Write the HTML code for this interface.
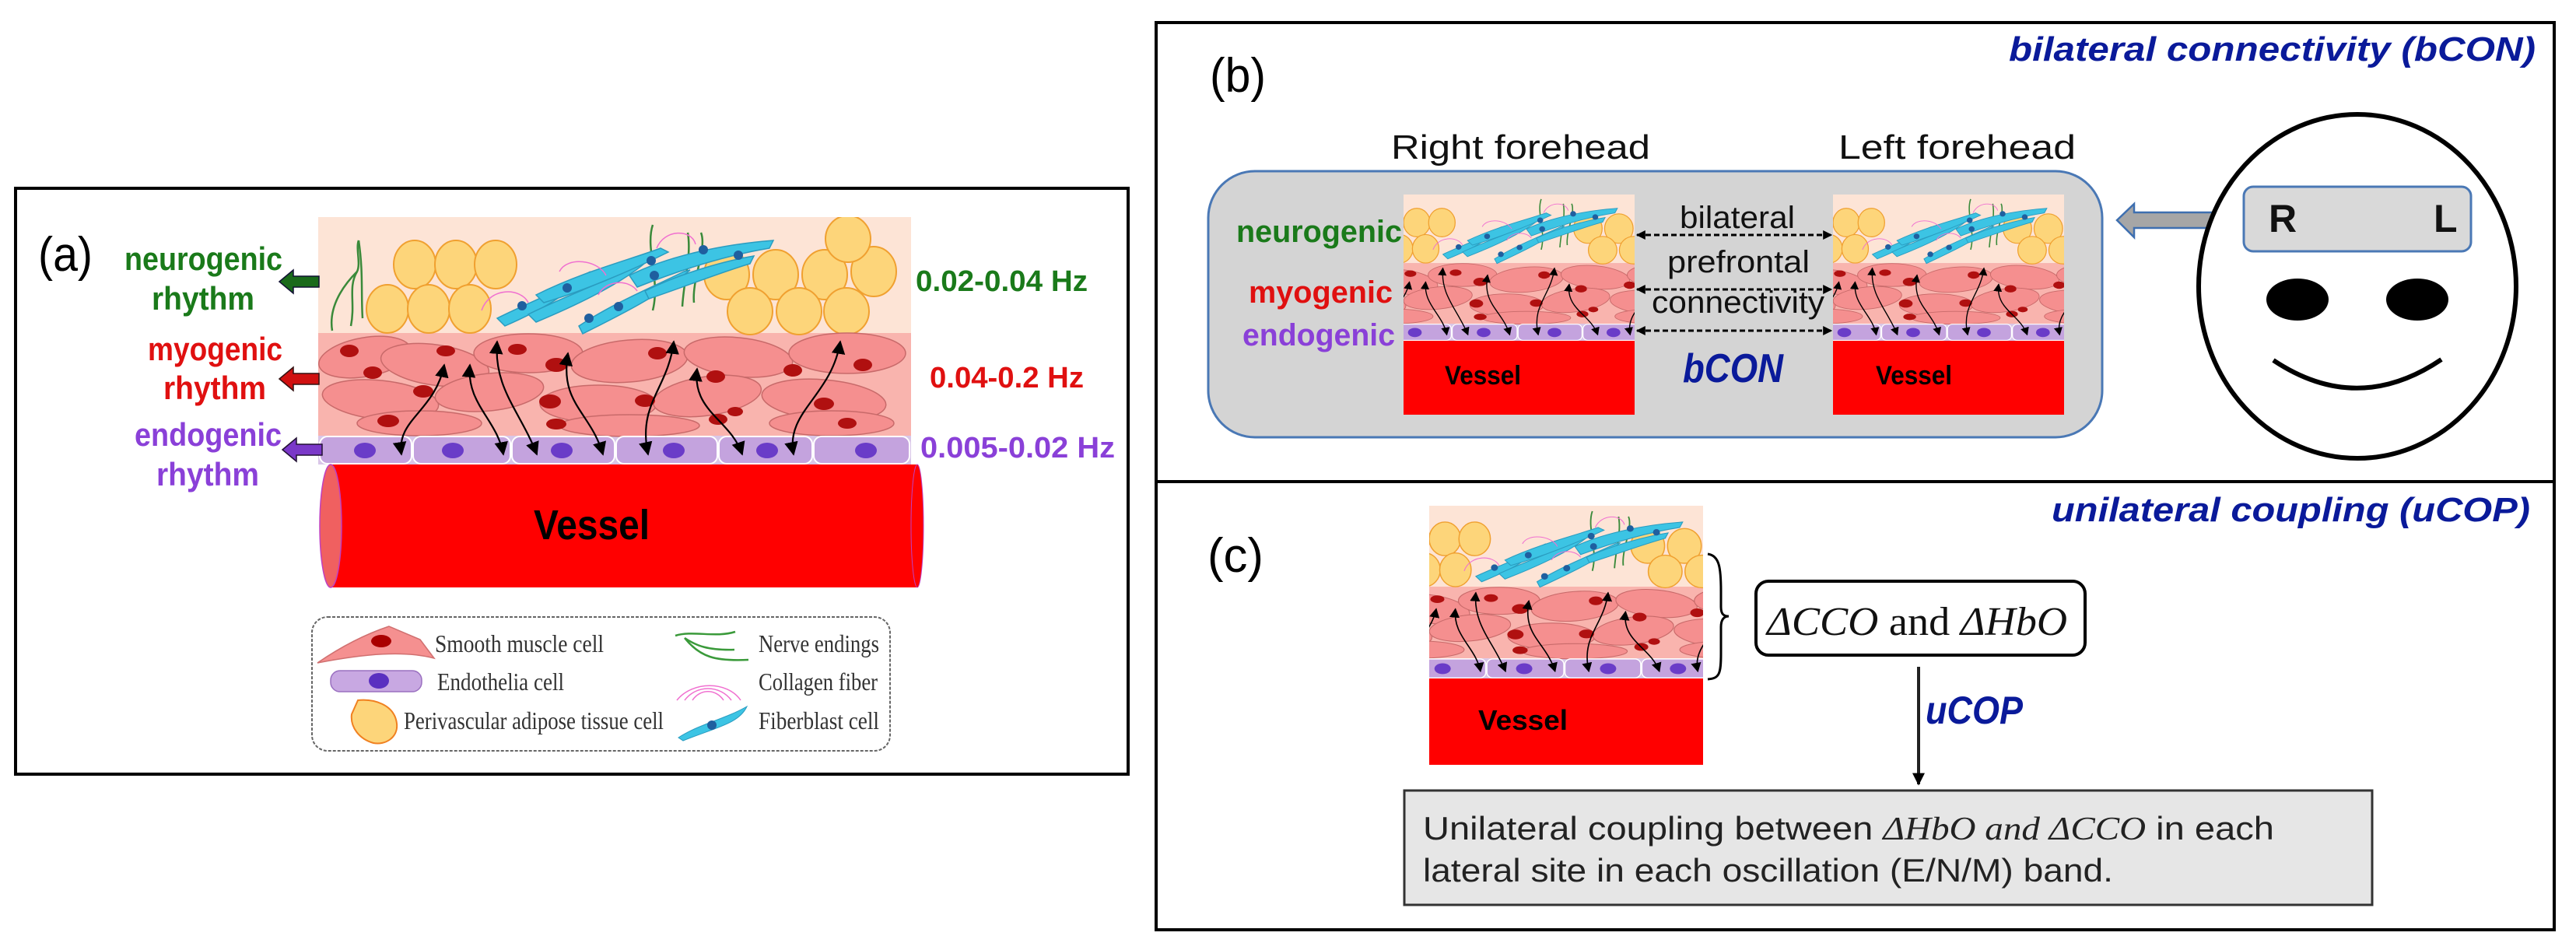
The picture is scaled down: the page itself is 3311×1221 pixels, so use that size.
<!DOCTYPE html>
<html><head><meta charset="utf-8"><style>
html,body{margin:0;padding:0;background:#fff;}
svg{display:block;}
</style></head><body>
<svg width="3311" height="1221" viewBox="0 0 3311 1221" xmlns="http://www.w3.org/2000/svg">
<defs>
<marker id="ah" viewBox="0 0 10 10" refX="9" refY="5" markerWidth="8" markerHeight="8" orient="auto-start-reverse"><path d="M0,0 L10,5 L0,10 z" fill="#000"/></marker>
<marker id="ahs" viewBox="0 0 10 10" refX="9" refY="5" markerWidth="4" markerHeight="4" orient="auto-start-reverse"><path d="M0,0 L10,5 L0,10 z" fill="#000"/></marker>
<symbol id="tis" viewBox="0 0 762 318" preserveAspectRatio="none">
 <rect x="0" y="0" width="762" height="149" fill="#fde4d6"/>
 <rect x="0" y="149" width="762" height="132" fill="#f9b4ae"/>
 <rect x="0" y="281" width="762" height="37" fill="#d9c6e8"/>
 <g fill="none" stroke="#3a8a3a" stroke-width="2.5">
  <path d="M18,146 C12,110 40,80 50,70 C55,60 48,40 52,30"/><path d="M42,140 C48,110 38,90 50,70"/><path d="M57,130 C55,100 58,70 52,30"/>
  <path d="M430,120 C440,80 420,40 430,10"/><path d="M468,115 C470,80 480,50 475,20"/><path d="M483,110 C480,80 500,40 492,20"/>
 </g>
 <g fill="#fdd57a" stroke="#f0a030" stroke-width="2">
  <ellipse cx="124" cy="61" rx="27" ry="31"/><ellipse cx="177" cy="61" rx="27" ry="31"/><ellipse cx="228" cy="61" rx="27" ry="31"/>
  <ellipse cx="89" cy="118" rx="27" ry="31"/><ellipse cx="142" cy="118" rx="27" ry="31"/><ellipse cx="195" cy="118" rx="27" ry="31"/>
  <ellipse cx="525" cy="74" rx="29" ry="32"/><ellipse cx="588" cy="74" rx="29" ry="32"/><ellipse cx="651" cy="74" rx="29" ry="32"/>
  <ellipse cx="714" cy="70" rx="29" ry="32"/><ellipse cx="681" cy="28" rx="29" ry="30"/>
  <ellipse cx="555" cy="121" rx="29" ry="30"/><ellipse cx="618" cy="121" rx="29" ry="30"/><ellipse cx="679" cy="121" rx="29" ry="30"/>
 </g>
 <g fill="#3cc4e4" stroke="#2a9cc0" stroke-width="1.5">
  <path d="M230,130 C270,110 300,100 340,75 L350,70 C320,100 290,118 240,140 z"/>
  <path d="M270,125 C320,100 380,80 420,55 L430,50 C400,80 340,110 280,135 z"/>
  <path d="M280,100 C340,70 400,55 440,40 L450,45 C400,70 340,95 290,110 z"/>
  <path d="M335,140 C380,110 430,90 470,70 L478,68 C440,100 390,125 340,150 z"/>
  <path d="M400,75 C450,50 520,35 585,30 L580,40 C520,50 460,70 410,90 z"/>
  <path d="M420,95 C470,70 530,55 560,50 L555,60 C520,70 470,90 425,105 z"/>
 </g>
 <g fill="#1f5f9f"><circle cx="262" cy="114" r="6"/><circle cx="320" cy="91" r="6"/><circle cx="348" cy="130" r="6"/><circle cx="428" cy="56" r="6"/><circle cx="432" cy="75" r="6"/><circle cx="495" cy="42" r="6"/><circle cx="540" cy="49" r="6"/><circle cx="386" cy="115" r="6"/></g>
 <g fill="none" stroke="#f070d0" stroke-width="1.5">
  <path d="M210,120 C220,90 260,90 270,110"/><path d="M310,70 C320,50 360,55 370,75"/><path d="M435,40 C445,15 480,15 485,35"/><path d="M360,100 C370,80 400,80 410,95"/>
 </g>
 <g fill="#f58f8f" stroke="#c86a6a" stroke-width="1.5">
  <ellipse cx="60" cy="180" rx="60" ry="25" transform="rotate(-10 60 180)"/><ellipse cx="150" cy="190" rx="70" ry="26" transform="rotate(8 150 190)"/>
  <ellipse cx="270" cy="175" rx="70" ry="25"/><ellipse cx="400" cy="185" rx="75" ry="27" transform="rotate(-5 400 185)"/>
  <ellipse cx="540" cy="180" rx="70" ry="25" transform="rotate(6 540 180)"/><ellipse cx="680" cy="175" rx="75" ry="26"/>
  <ellipse cx="80" cy="235" rx="75" ry="25" transform="rotate(6 80 235)"/><ellipse cx="220" cy="225" rx="70" ry="24" transform="rotate(-6 220 225)"/>
  <ellipse cx="360" cy="240" rx="75" ry="24"/><ellipse cx="500" cy="230" rx="70" ry="25" transform="rotate(-8 500 230)"/>
  <ellipse cx="650" cy="235" rx="80" ry="26" transform="rotate(5 650 235)"/>
  <ellipse cx="130" cy="265" rx="80" ry="16"/><ellipse cx="400" cy="268" rx="90" ry="14"/><ellipse cx="660" cy="265" rx="80" ry="16"/>
 </g>
 <g fill="#b01010"><ellipse cx="40" cy="172" rx="12" ry="8"/><ellipse cx="164" cy="172" rx="12" ry="7"/><ellipse cx="70" cy="200" rx="12" ry="8"/><ellipse cx="135" cy="224" rx="13" ry="8"/><ellipse cx="90" cy="262" rx="14" ry="8"/><ellipse cx="256" cy="170" rx="12" ry="7"/><ellipse cx="306" cy="190" rx="14" ry="9"/><ellipse cx="298" cy="237" rx="14" ry="9"/><ellipse cx="306" cy="266" rx="13" ry="7"/><ellipse cx="436" cy="175" rx="12" ry="8"/><ellipse cx="420" cy="236" rx="13" ry="8"/><ellipse cx="511" cy="205" rx="12" ry="8"/><ellipse cx="514" cy="260" rx="12" ry="7"/><ellipse cx="610" cy="197" rx="12" ry="8"/><ellipse cx="700" cy="190" rx="12" ry="8"/><ellipse cx="650" cy="240" rx="13" ry="8"/><ellipse cx="680" cy="265" rx="12" ry="7"/><ellipse cx="536" cy="250" rx="10" ry="6"/></g>
 <g fill="#c4a3de" stroke="#fff" stroke-width="2">
  <rect x="2" y="282" width="118" height="35" rx="10"/><rect x="122" y="282" width="125" height="35" rx="10"/><rect x="249" y="282" width="132" height="35" rx="10"/><rect x="383" y="282" width="130" height="35" rx="10"/><rect x="515" y="282" width="120" height="35" rx="10"/><rect x="637" y="282" width="123" height="35" rx="10"/>
 </g>
 <g fill="#6a3cc8"><ellipse cx="60" cy="300" rx="14" ry="10"/><ellipse cx="173" cy="300" rx="14" ry="10"/><ellipse cx="313" cy="300" rx="14" ry="10"/><ellipse cx="457" cy="300" rx="14" ry="10"/><ellipse cx="577" cy="300" rx="14" ry="10"/><ellipse cx="704" cy="300" rx="14" ry="10"/></g>
 <g fill="none" stroke="#000" stroke-width="2.2" marker-start="url(#ah)" marker-end="url(#ah)">
  <path d="M107,305 C100,260 150,250 162,190"/>
  <path d="M238,305 C230,260 190,240 195,190"/>
  <path d="M281,305 C260,250 225,220 230,160"/>
  <path d="M366,305 C350,250 310,240 321,175"/>
  <path d="M424,305 C410,240 450,220 457,160"/>
  <path d="M545,305 C530,260 480,250 487,195"/>
  <path d="M611,305 C600,250 660,230 671,160"/>
 </g>
</symbol>
</defs>

<rect x="20" y="242" width="1430" height="753" fill="none" stroke="#000" stroke-width="4"/>
<text x="49" y="348" font-family="Liberation Sans, sans-serif" font-size="62" textLength="70" lengthAdjust="spacingAndGlyphs">(a)</text>
<use href="#tis" x="409" y="279" width="762" height="318"/>
<g font-family="Liberation Sans, sans-serif" font-weight="bold" font-size="42" text-anchor="start">
 <text x="160" y="347" fill="#1a7a1a" textLength="203" lengthAdjust="spacingAndGlyphs">neurogenic</text>
 <text x="195" y="398" fill="#1a7a1a" textLength="132" lengthAdjust="spacingAndGlyphs">rhythm</text>
 <text x="190" y="463" fill="#e01010" textLength="173" lengthAdjust="spacingAndGlyphs">myogenic</text>
 <text x="210" y="513" fill="#e01010" textLength="132" lengthAdjust="spacingAndGlyphs">rhythm</text>
 <text x="173" y="573" fill="#8a40d8" textLength="189" lengthAdjust="spacingAndGlyphs">endogenic</text>
 <text x="201" y="624" fill="#8a40d8" textLength="132" lengthAdjust="spacingAndGlyphs">rhythm</text>
 <text x="1177" y="374" fill="#1a7a1a" font-size="38" textLength="221" lengthAdjust="spacingAndGlyphs">0.02-0.04 Hz</text>
 <text x="1195" y="498" fill="#e01010" font-size="38" textLength="198" lengthAdjust="spacingAndGlyphs">0.04-0.2 Hz</text>
 <text x="1183" y="588" fill="#8a40d8" font-size="38" textLength="250" lengthAdjust="spacingAndGlyphs">0.005-0.02 Hz</text>
</g>
<path d="M359,362 L377,347 L377,355 L410,355 L410,369 L377,369 L377,377 z" fill="#1a6a1a" stroke="#113" stroke-width="1.5"/>
<path d="M359,487 L377,472 L377,480 L410,480 L410,494 L377,494 L377,502 z" fill="#d01010" stroke="#311" stroke-width="1.5"/>
<path d="M363,578 L381,563 L381,571 L414,571 L414,585 L381,585 L381,593 z" fill="#7a38c8" stroke="#213" stroke-width="1.5"/>
<rect x="425" y="597" width="754" height="158" fill="#ff0000"/>
<ellipse cx="1179" cy="676" rx="8" ry="79" fill="#ff0000" stroke="#c040c0" stroke-width="1"/>
<ellipse cx="425" cy="676" rx="14" ry="79" fill="#f06060" stroke="#c040c0" stroke-width="1.5"/>
<text x="686" y="693" font-family="Liberation Sans, sans-serif" font-weight="bold" font-size="54" textLength="149" lengthAdjust="spacingAndGlyphs">Vessel</text>
<rect x="401" y="793" width="743" height="172" rx="20" fill="#fff" stroke="#666" stroke-width="2" stroke-dasharray="4 2"/>
<path d="M408,852 C440,830 470,815 500,805 L540,822 L558,846 C520,836 470,840 408,852 z" fill="#f59090" stroke="#d07070" stroke-width="1.5"/>
<ellipse cx="490" cy="824" rx="13" ry="8" fill="#a00"/>
<rect x="425" y="862" width="117" height="27" rx="12" fill="#c8a8e2" stroke="#9a70c0" stroke-width="1.5"/>
<ellipse cx="487" cy="875" rx="13" ry="10" fill="#5a30c0"/>
<path d="M460,900 C480,898 507,905 510,930 C512,948 495,958 480,955 C462,950 450,935 452,918 z" fill="#fdd57a" stroke="#f08020" stroke-width="2"/>
<g fill="none" stroke="#3a9a3a" stroke-width="2.5"><path d="M868,817 C890,810 920,820 945,812"/><path d="M880,820 C895,830 910,836 944,835"/><path d="M880,820 C900,845 920,850 962,848"/></g>
<g fill="none" stroke="#f070d0" stroke-width="1.5"><path d="M880,900 C895,880 925,880 940,900"/><path d="M890,900 C900,885 920,885 930,900"/><path d="M870,900 C890,875 935,875 952,900"/></g>
<path d="M872,948 C900,930 930,925 960,908 C950,930 920,935 878,952 z" fill="#3cc4e4" stroke="#2a9cc0"/>
<circle cx="915" cy="932" r="6" fill="#1f5f9f"/>
<g font-family="Liberation Serif, serif" font-size="32" fill="#333">
 <text x="559" y="838" textLength="217" lengthAdjust="spacingAndGlyphs">Smooth muscle cell</text>
 <text x="562" y="887" textLength="163" lengthAdjust="spacingAndGlyphs">Endothelia cell</text>
 <text x="519" y="937" textLength="334" lengthAdjust="spacingAndGlyphs">Perivascular adipose tissue cell</text>
 <text x="975" y="838" textLength="155" lengthAdjust="spacingAndGlyphs">Nerve endings</text>
 <text x="975" y="887" textLength="153" lengthAdjust="spacingAndGlyphs">Collagen fiber</text>
 <text x="975" y="937" textLength="155" lengthAdjust="spacingAndGlyphs">Fiberblast cell</text>
</g>

<rect x="1486" y="29" width="1797" height="1166" fill="none" stroke="#000" stroke-width="4"/>
<line x1="1486" y1="619" x2="3283" y2="619" stroke="#000" stroke-width="4"/>
<text x="1555" y="118" font-family="Liberation Sans, sans-serif" font-size="62" textLength="72" lengthAdjust="spacingAndGlyphs">(b)</text>
<text x="2582" y="78" font-family="Liberation Sans, sans-serif" font-size="44" font-weight="bold" font-style="italic" fill="#0a1a9a" textLength="677" lengthAdjust="spacingAndGlyphs">bilateral connectivity (bCON)</text>
<g font-family="Liberation Sans, sans-serif" font-size="44" fill="#111">
 <text x="1788" y="204" textLength="333" lengthAdjust="spacingAndGlyphs">Right forehead</text>
 <text x="2363" y="204" textLength="305" lengthAdjust="spacingAndGlyphs">Left forehead</text>
</g>
<rect x="1553" y="220" width="1149" height="342" rx="60" fill="#d4d4d4" stroke="#4a78b5" stroke-width="3"/>
<g font-family="Liberation Sans, sans-serif" font-weight="bold" font-size="40">
 <text x="1589" y="311" fill="#1a7a1a" textLength="213" lengthAdjust="spacingAndGlyphs">neurogenic</text>
 <text x="1605" y="389" fill="#e01010" textLength="185" lengthAdjust="spacingAndGlyphs">myogenic</text>
 <text x="1597" y="444" fill="#8a40d8" textLength="196" lengthAdjust="spacingAndGlyphs">endogenic</text>
</g>
<svg x="1804" y="250" width="297" height="188" viewBox="150 0 470 318" preserveAspectRatio="none"><use href="#tis" x="0" y="0" width="762" height="318"/></svg>
<rect x="1804" y="438" width="297" height="95" fill="#ff0000"/>
<svg x="2356" y="250" width="297" height="188" viewBox="150 0 470 318" preserveAspectRatio="none"><use href="#tis" x="0" y="0" width="762" height="318"/></svg>
<rect x="2356" y="438" width="297" height="95" fill="#ff0000"/>
<g font-family="Liberation Sans, sans-serif" font-weight="bold" font-size="34" fill="#000">
 <text x="1857" y="494" textLength="98" lengthAdjust="spacingAndGlyphs">Vessel</text>
 <text x="2411" y="494" textLength="98" lengthAdjust="spacingAndGlyphs">Vessel</text>
</g>
<g stroke="#000" stroke-width="3" stroke-dasharray="7 4" marker-start="url(#ahs)" marker-end="url(#ahs)">
 <line x1="2104" y1="302" x2="2354" y2="302"/><line x1="2104" y1="372" x2="2354" y2="372"/><line x1="2104" y1="425" x2="2354" y2="425"/>
</g>
<g font-family="Liberation Sans, sans-serif" font-size="40" fill="#111">
 <text x="2159" y="293" textLength="148" lengthAdjust="spacingAndGlyphs">bilateral</text>
 <text x="2143" y="350" textLength="183" lengthAdjust="spacingAndGlyphs">prefrontal</text>
 <text x="2123" y="402" textLength="222" lengthAdjust="spacingAndGlyphs">connectivity</text>
</g>
<text x="2163" y="491" font-family="Liberation Sans, sans-serif" font-weight="bold" font-style="italic" font-size="52" fill="#0a1a9a" textLength="129" lengthAdjust="spacingAndGlyphs">bCON</text>
<path d="M2721,283 L2743,262 L2743,273 L2864,273 L2864,293 L2743,293 L2743,305 z" fill="#a6a6a6" stroke="#3e6fb0" stroke-width="2.5"/>
<ellipse cx="3030" cy="368" rx="204" ry="221" fill="#fff" stroke="#000" stroke-width="6"/>
<rect x="2884" y="240" width="292" height="83" rx="12" fill="#d9d9d9" stroke="#4a78b5" stroke-width="3"/>
<g font-family="Liberation Sans, sans-serif" font-weight="bold" font-size="50" fill="#111">
 <text x="2916" y="298">R</text><text x="3128" y="298">L</text>
</g>
<ellipse cx="2953" cy="385" rx="40" ry="27" fill="#000"/>
<ellipse cx="3107" cy="385" rx="40" ry="27" fill="#000"/>
<path d="M2922,463 Q3030,535 3138,462" fill="none" stroke="#000" stroke-width="6"/>

<text x="1552" y="735" font-family="Liberation Sans, sans-serif" font-size="62" textLength="72" lengthAdjust="spacingAndGlyphs">(c)</text>
<text x="2637" y="670" font-family="Liberation Sans, sans-serif" font-size="44" font-weight="bold" font-style="italic" fill="#0a1a9a" textLength="615" lengthAdjust="spacingAndGlyphs">unilateral coupling (uCOP)</text>
<svg x="1837" y="650" width="352" height="222" viewBox="150 0 470 318" preserveAspectRatio="none"><use href="#tis" x="0" y="0" width="762" height="318"/></svg>
<rect x="1837" y="872" width="352" height="111" fill="#ff0000"/>
<text x="1900" y="938" font-family="Liberation Sans, sans-serif" font-weight="bold" font-size="36" textLength="115" lengthAdjust="spacingAndGlyphs">Vessel</text>
<path d="M2195,712 C2210,714 2212,730 2212,760 L2212,780 C2212,790 2216,792 2222,792 C2216,792 2212,796 2212,806 L2212,840 C2212,866 2210,872 2195,873" fill="none" stroke="#000" stroke-width="3"/>
<rect x="2257" y="747" width="423" height="95" rx="16" fill="#fff" stroke="#000" stroke-width="4"/>
<text x="2271" y="816" font-family="Liberation Serif, serif" font-size="52" fill="#111" textLength="386" lengthAdjust="spacingAndGlyphs"><tspan font-style="italic">ΔCCO</tspan> and <tspan font-style="italic">ΔHbO</tspan></text>
<line x1="2466" y1="857" x2="2466" y2="1008" stroke="#222" stroke-width="4" marker-end="url(#ahs)"/>
<text x="2475" y="930" font-family="Liberation Sans, sans-serif" font-weight="bold" font-style="italic" font-size="50" fill="#0a1a9a" textLength="125" lengthAdjust="spacingAndGlyphs">uCOP</text>
<rect x="1805" y="1016" width="1244" height="147" fill="#e6e6e6" stroke="#333" stroke-width="3"/>
<g font-family="Liberation Sans, sans-serif" font-size="42" fill="#222">
 <text x="1829" y="1079" textLength="1094" lengthAdjust="spacingAndGlyphs">Unilateral coupling between <tspan font-family="Liberation Serif, serif" font-style="italic">ΔHbO and ΔCCO</tspan> in each</text>
 <text x="1829" y="1133" textLength="887" lengthAdjust="spacingAndGlyphs">lateral site in each oscillation (E/N/M) band.</text>
</g>
</svg>
</body></html>
